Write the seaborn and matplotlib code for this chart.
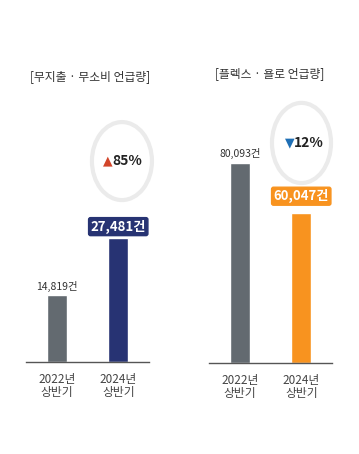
import matplotlib
matplotlib.use("Agg")
import matplotlib.pyplot as plt
from matplotlib.patches import Ellipse
import seaborn as sns
import pandas as pd

# data
periods = ["2022년\n상반기", "2024년\n상반기"]
nospend_counts = [14819, 27481]
flex_counts = [80093, 60047]
nospend_title = "[무지출 · 무소비 언급량]"
flex_title = "[플렉스 · 욜로 언급량]"
nospend_change = "85%"
flex_change = "12%"

GRAY = "#636a70"
NAVY = "#273373"
ORANGE = "#f8931f"
RING = "#ebebeb"

sns.set_style("white")
plt.rcParams['font.family'] = ['Noto Sans CJK KR', 'DejaVu Sans']

fig = plt.figure(figsize=(3.59, 4.54), dpi=100)
fig.patch.set_facecolor("white")


def draw_panel(ax, counts, colors, ymax, boxed_color, offsets):
    df = pd.DataFrame({"period": periods, "count": counts})
    sns.barplot(data=df, x="period", y="count", hue="period", palette=colors,
                legend=False, width=0.33, saturation=1, ax=ax)
    ax.set_xlim(-0.5, 1.5)
    ax.set_ylim(0, ymax)
    ax.set_xlabel("")
    ax.set_ylabel("")
    ax.set_yticks([])
    for s in ["top", "right", "left"]:
        ax.spines[s].set_visible(False)
    ax.spines["bottom"].set_color("#555555")
    ax.spines["bottom"].set_linewidth(1.0)
    ax.tick_params(axis="x", which="major", length=0, pad=8,
                   labelsize=8.5, labelcolor="#444444")
    for lab in ax.get_xticklabels():
        lab.set_linespacing(0.95)
    ax.set_xticks([-0.5, 0.5], minor=True)
    ax.tick_params(axis="x", which="minor", direction="in", length=3,
                   width=1, color="#555555")
    # value labels
    ax.annotate(f"{counts[0]:,}건", (0, counts[0]), xytext=(0, offsets[0]),
                textcoords="offset points", ha="center", va="center",
                fontsize=7.5, color="#333333")
    ax.annotate(f"{counts[1]:,}건", (1, counts[1]), xytext=(0, offsets[1]),
                textcoords="offset points", ha="center", va="center",
                fontsize=9.5, fontweight="bold", color="white",
                bbox=dict(boxstyle="round,pad=0.15", fc=boxed_color, ec=boxed_color))


# left panel
ax1 = fig.add_axes([26 / 359, 92 / 454, 123 / 359, 312 / 454])
draw_panel(ax1, nospend_counts, [GRAY, NAVY], 69000, NAVY, (6, 8))
ax1.add_patch(Ellipse((0.78, 0.644), 0.488, 0.25, transform=ax1.transAxes,
                      fill=False, ec=RING, lw=3, clip_on=False))
ax1.text(0.625, 0.644, "▲", transform=ax1.transAxes, ha="left", va="center",
         fontsize=9, color="#d2452a", family=['DejaVu Sans'])
ax1.text(0.70, 0.644, nospend_change, transform=ax1.transAxes, ha="left",
         va="center", fontsize=10, fontweight="bold", color="#222222")

# right panel
ax2 = fig.add_axes([209 / 359, 91 / 454, 123 / 359, 313 / 454])
draw_panel(ax2, flex_counts, [GRAY, ORANGE], 125200, ORANGE, (7, 12))
ax2.add_patch(Ellipse((0.752, 0.703), 0.48, 0.256, transform=ax2.transAxes,
                      fill=False, ec=RING, lw=3, clip_on=False))
ax2.text(0.615, 0.703, "▼", transform=ax2.transAxes, ha="left", va="center",
         fontsize=9, color="#1f6fb5", family=['DejaVu Sans'])
ax2.text(0.69, 0.703, flex_change, transform=ax2.transAxes, ha="left",
         va="center", fontsize=10, fontweight="bold", color="#222222")

fig.text(90 / 359, 1 - 77 / 454, nospend_title, ha="center", va="center",
         fontsize=8.5, color="#333333")
fig.text(270 / 359, 1 - 74 / 454, flex_title, ha="center", va="center",
         fontsize=8.5, color="#333333")

fig.savefig("out.png", dpi=100)
plt.close(fig)
